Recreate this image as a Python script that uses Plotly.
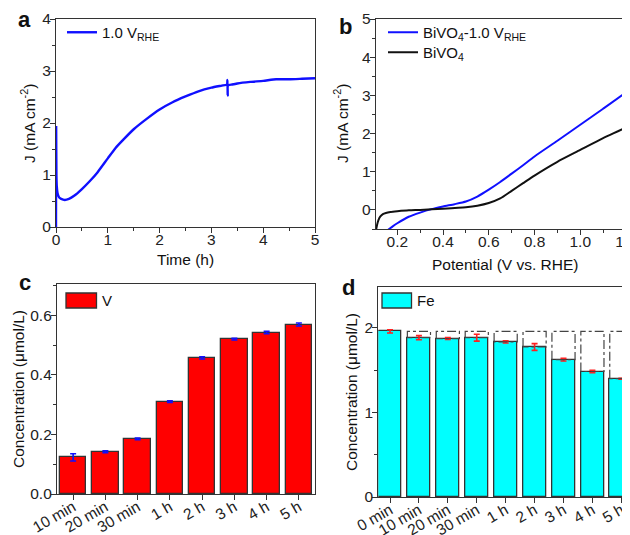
import plotly.graph_objects as go

# ---------------- data ----------------
# Panel a: chronoamperometry at 1.0 V_RHE
time_h = [0.0, 0.003, 0.008, 0.015, 0.03, 0.06, 0.1, 0.17, 0.25, 0.35, 0.5, 0.65, 0.8, 1.0,
          1.15, 1.3, 1.5, 1.75, 2.0, 2.25, 2.5, 2.75, 3.0, 3.2, 3.3, 3.31, 3.315, 3.32,
          3.4, 3.5, 3.75, 4.0, 4.25, 4.5, 4.75, 5.0]
j_a = [0.0, 1.92, 1.0, 0.78, 0.65, 0.57, 0.54, 0.52, 0.54, 0.6, 0.73, 0.88, 1.05, 1.32,
       1.52, 1.68, 1.88, 2.08, 2.26, 2.4, 2.51, 2.61, 2.68, 2.72, 2.74, 2.83, 2.53, 2.72,
       2.74, 2.76, 2.79, 2.81, 2.84, 2.84, 2.85, 2.86]

# Panel b: LSV curves
pot_blue = [0.16, 0.18, 0.2, 0.25, 0.3, 0.35, 0.4, 0.45, 0.5, 0.55, 0.6, 0.65, 0.7, 0.75,
            0.8, 0.9, 1.0, 1.1, 1.2, 1.2175]
j_blue = [-0.52, -0.43, -0.35, -0.18, -0.07, 0.02, 0.09, 0.15, 0.22, 0.35, 0.53, 0.73, 0.95, 1.17,
          1.4, 1.81, 2.23, 2.65, 3.08, 3.17]
pot_black = [0.108, 0.112, 0.118, 0.126, 0.137, 0.15, 0.17, 0.2, 0.25, 0.3, 0.4, 0.5, 0.55, 0.6,
             0.65, 0.7, 0.75, 0.8, 0.9, 1.0, 1.1, 1.2, 1.2175]
j_black = [-0.5, -0.38, -0.26, -0.17, -0.11, -0.08, -0.055, -0.035, -0.01, 0.0, 0.03, 0.07, 0.11, 0.18,
           0.3, 0.5, 0.7, 0.9, 1.26, 1.57, 1.88, 2.16, 2.23]

# Panel c: V concentration
cats_c = ["10 min", "20 min", "30 min", "1 h", "2 h", "3 h", "4 h", "5 h"]
v_conc = [0.123, 0.142, 0.185, 0.31, 0.457, 0.52, 0.542, 0.569]
v_err = [0.012, 0.003, 0.003, 0.003, 0.004, 0.003, 0.004, 0.005]

# Panel d: Fe concentration
cats_d = ["0 min", "10 min", "20 min", "30 min", "1 h", "2 h", "3 h", "4 h", "5 h"]
fe_conc = [1.96, 1.885, 1.875, 1.885, 1.835, 1.775, 1.625, 1.485, 1.4]
fe_err = [0.02, 0.025, 0.012, 0.04, 0.012, 0.04, 0.015, 0.015, 0.006]

# ---------------- style ----------------
FONT = "Liberation Sans, Arial, sans-serif"
AX = "#333333"
BLUE = "#1010FF"
OFF = 8                      # page body margin
W, H = 630 - OFF, 535 - OFF  # figure size so that it fits the window
FS = 15.5


def PX(x):
    return (x - OFF) / W


def PY(y):
    return 1 - (y - OFF) / H


def px_x(a, b):
    return [PX(a), min(1.0, PX(b))]


def px_y(top, bottom):
    return [PY(bottom), PY(top)]


def axis_style(**kw):
    d = dict(showline=True, linecolor=AX, linewidth=1.2, mirror=True, ticks="outside",
             ticklen=5, tickwidth=1.2, tickcolor=AX, showgrid=False, zeroline=False,
             automargin=False, ticklabeloverflow="allow",
             tickfont=dict(family=FONT, size=FS, color="#222"))
    d.update(kw)
    return d


MINOR = lambda dt: dict(dtick=dt, ticks="outside", ticklen=3, tickcolor=AX)
XSO = -7   # x tick label standoff
YSO = -4   # y tick label standoff

fig = go.Figure()

# Panel a
fig.add_trace(go.Scatter(x=time_h, y=j_a, mode="lines", line=dict(color=BLUE, width=2.4, shape="spline", smoothing=0.5),
                         name="1.0 V<sub>RHE</sub>", xaxis="x", yaxis="y", legend="legend"))

# Panel b
fig.add_trace(go.Scatter(x=pot_blue, y=j_blue, mode="lines", line=dict(color=BLUE, width=2, shape="spline", smoothing=0.6),
                         name="BiVO<sub>4</sub>-1.0 V<sub>RHE</sub>", xaxis="x2", yaxis="y2", legend="legend2"))
fig.add_trace(go.Scatter(x=pot_black, y=j_black, mode="lines", line=dict(color="#111", width=2, shape="spline", smoothing=0.6),
                         name="BiVO<sub>4</sub>", xaxis="x2", yaxis="y2", legend="legend3"))

# Panel c
idx_c = list(range(len(cats_c)))
fig.add_trace(go.Bar(x=idx_c, y=v_conc, width=0.82, marker=dict(color="#FF0000", line=dict(color=AX, width=1.3)),
                     error_y=dict(type="data", array=v_err, color=BLUE, thickness=1.6, width=3),
                     xaxis="x3", yaxis="y3", showlegend=False, name="V"))

# Panel d
idx_d = list(range(len(cats_d)))
fig.add_trace(go.Bar(x=idx_d, y=fe_conc, width=0.8, marker=dict(color="#00FFFF", line=dict(color=AX, width=1.3)),
                     error_y=dict(type="data", array=fe_err, color="#FF2020", thickness=1.6, width=3),
                     xaxis="x4", yaxis="y4", showlegend=False, name="Fe"))

# dash-dot boxes showing the loss relative to the initial Fe concentration
bw = 0.8
ref = fe_conc[0]
bx, by = [], []
for i in idx_d[1:]:
    v = fe_conc[i]
    bx += [i - bw / 2, i - bw / 2, i + bw / 2, i + bw / 2, i - bw / 2, None]
    by += [v, ref, ref, v, v, None]
fig.add_trace(go.Scatter(x=bx, y=by, mode="lines", line=dict(color="#444", width=1.2, dash="dashdot"),
                         xaxis="x4", yaxis="y4", showlegend=False, hoverinfo="skip"))

leg = lambda x, y: dict(x=PX(x), y=PY(y), xanchor="left", yanchor="top", bgcolor="rgba(0,0,0,0)",
                        font=dict(family=FONT, size=15, color="#111"), itemwidth=30)

layout = dict(
    width=W, height=H, margin=dict(l=0, r=0, t=0, b=0, autoexpand=False),
    paper_bgcolor="white", plot_bgcolor="white",
    font=dict(family=FONT, size=FS, color="#222"),
    bargap=0,
    xaxis=axis_style(domain=px_x(56, 315), range=[0, 5], dtick=1, anchor="y", minor=MINOR(0.5),
                     ticklabelstandoff=XSO),
    yaxis=axis_style(domain=px_y(19, 227), range=[0, 4], dtick=1, anchor="x", minor=MINOR(0.5),
                     ticklabelstandoff=YSO),
    xaxis2=axis_style(domain=px_x(375.7, 630), range=[0.1056, 1.2175], tick0=0, dtick=0.2, tickformat=".1f",
                      anchor="y2", minor=MINOR(0.1), ticklabelstandoff=XSO),
    yaxis2=axis_style(domain=px_y(19, 229), range=[-0.5, 5], dtick=1, anchor="x2", minor=MINOR(0.5),
                      ticklabelstandoff=YSO),
    xaxis3=axis_style(domain=px_x(57, 315), range=[-0.5, 7.5], tickvals=idx_c, ticktext=cats_c,
                      tickangle=-30, anchor="y3", ticklabelstandoff=-8),
    yaxis3=axis_style(domain=px_y(284, 494), range=[0, 0.705], dtick=0.2, tickformat=".1f", anchor="x3",
                      minor=MINOR(0.1), ticklabelstandoff=YSO),
    xaxis4=axis_style(domain=px_x(378.3, 630), range=[-0.405, 8.3], tickvals=idx_d, ticktext=cats_d,
                      tickangle=-30, anchor="y4", ticklabelstandoff=-8),
    yaxis4=axis_style(domain=px_y(287, 497), range=[0, 2.485], dtick=1, anchor="x4", minor=MINOR(0.5),
                      ticklabelstandoff=YSO),
    legend=leg(62, 16),
    legend2=leg(383, 16),
    legend3=leg(383, 36),
)
fig.update_layout(**layout)

# legend boxes for c and d (bar legends)
shapes = [
    dict(type="rect", xref="paper", yref="paper", x0=PX(66), x1=PX(96.5), y0=PY(308), y1=PY(293),
         fillcolor="#FF0000", line=dict(color=AX, width=1.3)),
    dict(type="rect", xref="paper", yref="paper", x0=PX(382), x1=PX(411.5), y0=PY(308), y1=PY(293),
         fillcolor="#00FFFF", line=dict(color=AX, width=1.3)),
]
fig.update_layout(shapes=shapes)

ann = []


def txt(x, y, s, size=FS, bold=False, angle=0, xanchor="center"):
    ann.append(dict(x=PX(x), y=PY(y), xref="paper", yref="paper", text=("<b>%s</b>" % s) if bold else s,
                    showarrow=False, xanchor=xanchor, yanchor="middle", textangle=angle,
                    font=dict(family=FONT, size=size, color="#111")))


txt(100, 300.5, "V", size=15, xanchor="left")
txt(415, 300.5, "Fe", size=15, xanchor="left")
txt(24, 19, "a", size=22, bold=True)
txt(345, 26, "b", size=22, bold=True)
txt(25, 282, "c", size=22, bold=True)
txt(348, 287, "d", size=22, bold=True)
txt(185, 259, "Time (h)")
txt(505, 264, "Potential (V vs. RHE)")
txt(28, 124, "J (mA cm<sup>-2</sup>)", angle=-90)
txt(341, 124, "J (mA cm<sup>-2</sup>)", angle=-90)
txt(19, 389, "Concentration (\u03bcmol/L)", angle=-90)
txt(351, 392, "Concentration (\u03bcmol/L)", angle=-90)
fig.update_layout(annotations=ann)

fig.write_html("out.html")
